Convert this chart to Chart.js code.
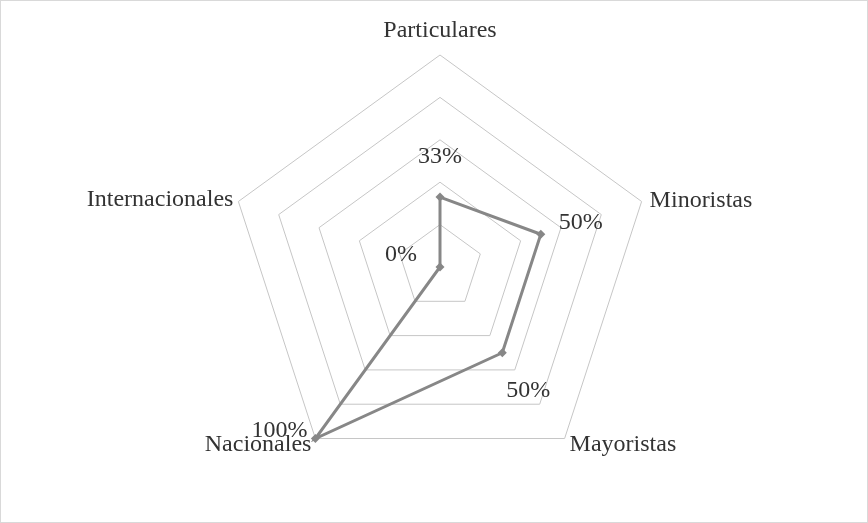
<!DOCTYPE html>
<html>
<head>
<meta charset="utf-8">
<script src="https://cdn.jsdelivr.net/npm/chart.js@4"></script>
<style>
  html, body { margin: 0; padding: 0; background: #fff; }
  #wrap { width: 868px; height: 523px; position: relative; }
</style>
</head>
<body>
<div id="wrap"><canvas id="radarChart"></canvas></div>
<script>
const categories = ['Particulares', 'Minoristas', 'Mayoristas', 'Nacionales', 'Internacionales'];
const shares = [33, 50, 50, 100, 0];
const shareLabels = ['33%', '50%', '50%', '100%', '0%'];

const serif = "'Liberation Serif', 'Times New Roman', serif";

// label offsets relative to the point / axis tip
const valueOffsets = [[0, -40], [40, -12], [26, 38], [-36, -8], [-39, -12]];
const catPlacement = [
    { dx: 0, dy: -24, align: 'center' },
    { dx: 8, dy: -1, align: 'left' },
    { dx: 5, dy: 6, align: 'left' },
    { dx: -4, dy: 6, align: 'right' },
    { dx: -5, dy: -2, align: 'right' }
];

const decorations = {
    id: 'decorations',
    afterDraw(chart) {
        const ctx = chart.ctx;
        const scale = chart.scales.r;
        ctx.save();
        ctx.strokeStyle = '#d9d9d9';
        ctx.lineWidth = 1;
        ctx.strokeRect(0.5, 0.5, chart.width - 1, chart.height - 1);

        ctx.fillStyle = '#333333';
        ctx.font = '24px ' + serif;
        ctx.textBaseline = 'middle';
        categories.forEach((name, i) => {
            const p = scale.getPointPosition(i, scale.drawingArea);
            const c = catPlacement[i];
            ctx.textAlign = c.align;
            ctx.fillText(name, p.x + c.dx, p.y + c.dy);
        });

        ctx.textAlign = 'center';
        const meta = chart.getDatasetMeta(0);
        meta.data.forEach((pt, i) => {
            const o = valueOffsets[i];
            ctx.fillText(shareLabels[i], pt.x + o[0], pt.y + o[1]);
        });
        ctx.restore();
    }
};

new Chart(document.getElementById('radarChart'), {
    type: 'radar',
    data: {
        labels: categories,
        datasets: [{
            data: shares,
            borderColor: '#878787',
            backgroundColor: '#878787',
            borderWidth: 3,
            fill: false,
            pointStyle: 'rectRot',
            pointRadius: 4.5,
            pointBackgroundColor: '#878787',
            pointBorderWidth: 0,
            tension: 0
        }]
    },
    options: {
        responsive: true,
        maintainAspectRatio: false,
        animation: false,
        layout: { padding: { top: 55, bottom: 44, left: 100, right: 88 } },
        plugins: { legend: { display: false }, tooltip: { enabled: false } },
        scales: {
            r: {
                min: 0,
                max: 100,
                ticks: { display: false, stepSize: 20 },
                angleLines: { display: false },
                grid: { color: '#c6c6c6', lineWidth: 1 },
                pointLabels: { display: false }
            }
        }
    },
    plugins: [decorations]
});
</script>
</body>
</html>
